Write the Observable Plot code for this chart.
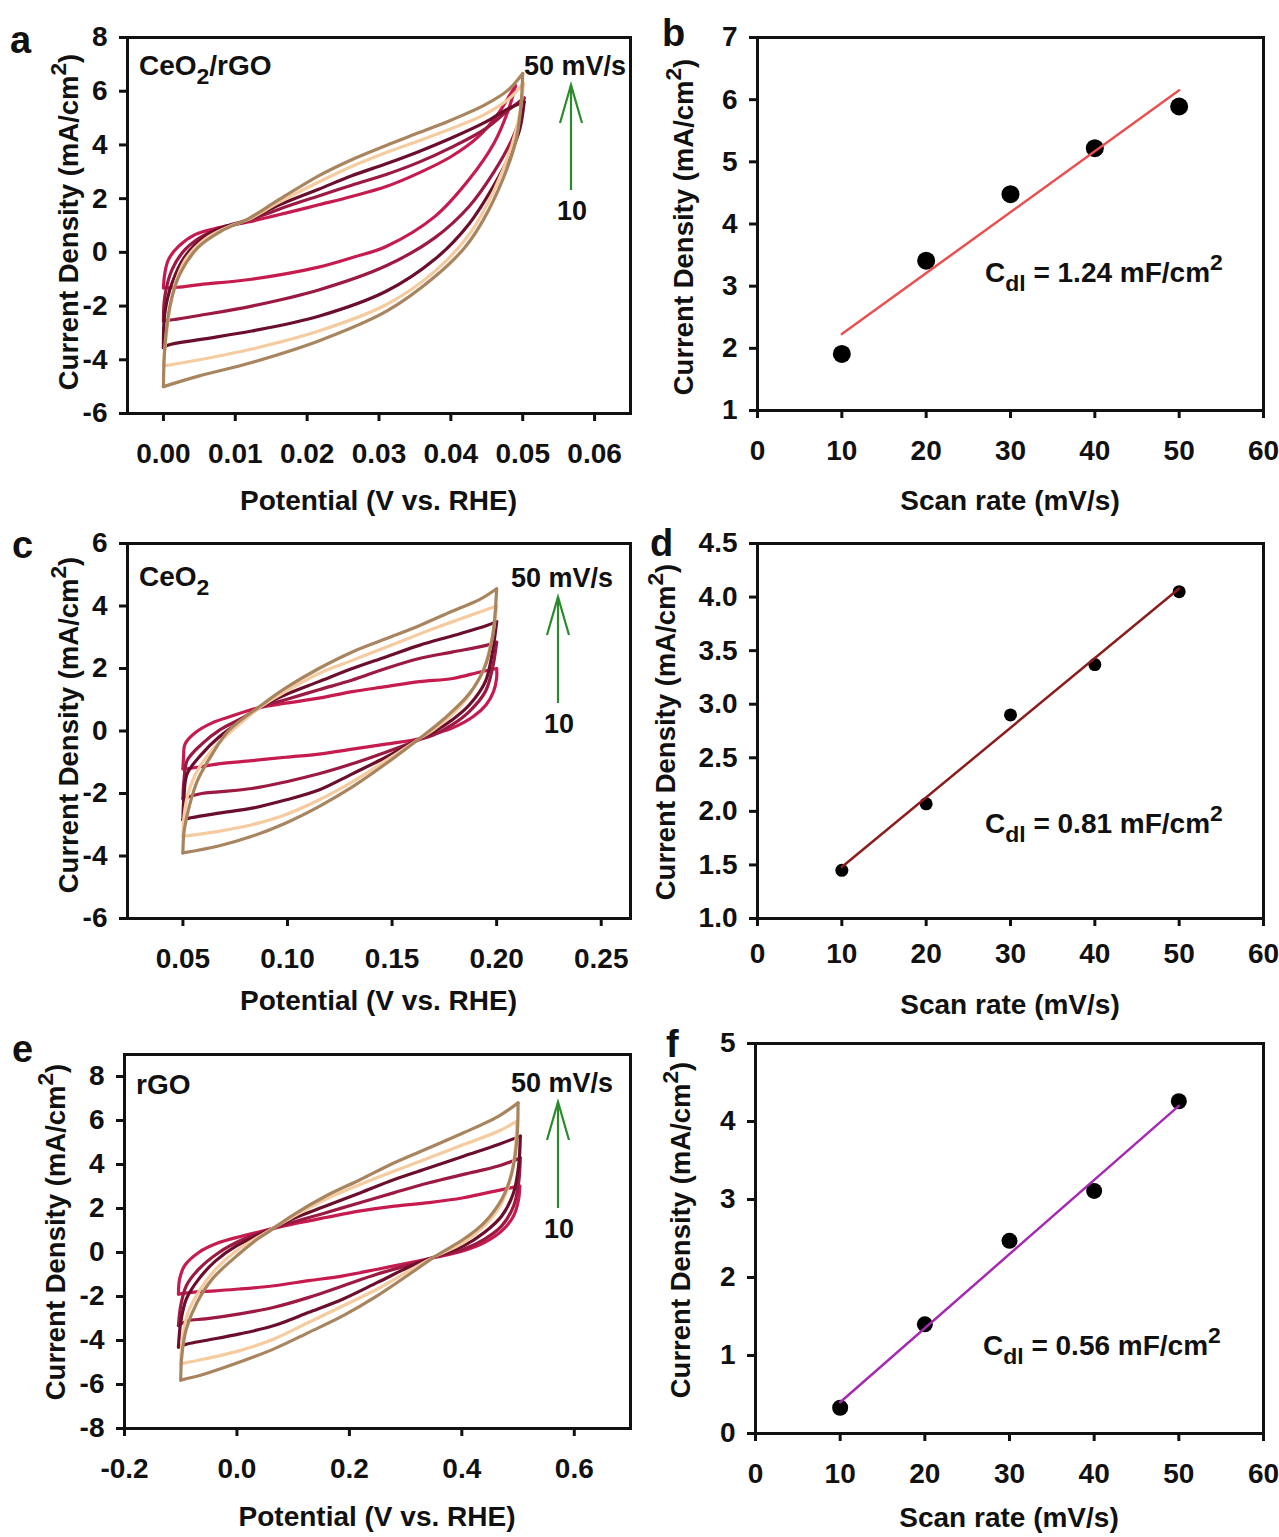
<!DOCTYPE html>
<html><head><meta charset="utf-8">
<script src="https://cdn.jsdelivr.net/npm/d3@7"></script>
<script src="https://cdn.jsdelivr.net/npm/@observablehq/plot@0.6"></script>
<style>
body{margin:0;background:#fff;}
#fig{position:relative;width:1279px;height:1537px;background:#fff;}
#fig svg{position:absolute;overflow:visible;}
</style></head><body><div id="fig"></div>
<script>
// ---------------- DATA ----------------
const scanRates = [10, 20, 30, 40, 50];

// Panel a: CeO2/rGO CV loops, forward (anodic) and reverse branches, one array per scan rate
const aForward = [
 [[0,-1.32],[0.0002,-0.77],[0.0007,-0.27],[0.0021,0.22],[0.0044,0.66],[0.0077,0.92],[0.0118,1.13],[0.017,1.46],[0.0216,1.77],[0.0262,2.08],[0.031,2.45],[0.0355,2.95],[0.040,3.56],[0.0438,4.3],[0.0466,5.17],[0.0483,5.9],[0.049,6.2]],
 [[0,-2.56],[0.0002,-1.63],[0.0012,-0.64],[0.003,0.1],[0.0058,0.66],[0.009,0.97],[0.0118,1.18],[0.016,1.6],[0.0216,2.1],[0.0262,2.5],[0.031,2.9],[0.0355,3.35],[0.040,3.9],[0.0448,4.6],[0.048,5.3],[0.0502,5.75]],
 [[0,-3.55],[0.0002,-2.25],[0.0012,-1.14],[0.003,-0.15],[0.0058,0.6],[0.0086,0.97],[0.0118,1.21],[0.016,1.75],[0.0216,2.35],[0.0262,2.85],[0.031,3.3],[0.0355,3.75],[0.040,4.25],[0.0448,4.85],[0.048,5.35],[0.0502,5.6]],
 [[0,-4.23],[0.0005,-2.87],[0.0014,-1.4],[0.003,-0.3],[0.0058,0.5],[0.009,0.95],[0.0118,1.22],[0.016,1.85],[0.0216,2.62],[0.0262,3.2],[0.031,3.72],[0.0355,4.15],[0.040,4.6],[0.0448,5.15],[0.048,5.7],[0.0501,6.3]],
 [[0,-5.0],[0.0002,-3.5],[0.0009,-2.0],[0.0023,-0.8],[0.0049,0.2],[0.0081,0.8],[0.0118,1.25],[0.016,1.95],[0.0216,2.85],[0.0262,3.45],[0.031,3.98],[0.0355,4.45],[0.040,4.92],[0.0448,5.5],[0.048,6.05],[0.05,6.66]]
];
const aReverse = [
 [[0.049,6.2],[0.048,5.3],[0.046,4.06],[0.0425,2.7],[0.0378,1.34],[0.031,0.22],[0.0262,-0.2],[0.0216,-0.55],[0.0123,-1.0],[0.0051,-1.2],[0.002,-1.3],[0,-1.32]],
 [[0.0502,5.75],[0.0495,4.9],[0.0485,4.2],[0.046,3.0],[0.0425,1.7],[0.0378,0.55],[0.031,-0.5],[0.0216,-1.4],[0.0123,-2.0],[0.005,-2.35],[0.0015,-2.5],[0,-2.56]],
 [[0.0502,5.6],[0.0496,4.6],[0.0485,3.8],[0.046,2.5],[0.0425,1.05],[0.0378,-0.25],[0.031,-1.45],[0.0216,-2.38],[0.0123,-2.93],[0.005,-3.25],[0.0007,-3.45],[0,-3.55]],
 [[0.0501,6.3],[0.0496,5.2],[0.0485,4.0],[0.046,2.3],[0.0425,0.65],[0.0378,-0.7],[0.031,-1.95],[0.0216,-2.93],[0.0123,-3.6],[0.005,-4.0],[0.0007,-4.2],[0,-4.23]],
 [[0.05,6.66],[0.0497,5.3],[0.049,4.1],[0.0472,2.7],[0.0445,1.2],[0.042,0.2],[0.0378,-0.9],[0.031,-2.2],[0.0216,-3.3],[0.0123,-4.1],[0.005,-4.6],[0,-5.0]]
];

// Panel c: CeO2
const cForward = [
 [[0.05,-1.21],[0.0503,-0.84],[0.051,-0.42],[0.056,-0.05],[0.064,0.26],[0.073,0.47],[0.086,0.74],[0.099,0.89],[0.115,1.05],[0.131,1.26],[0.147,1.42],[0.163,1.58],[0.179,1.68],[0.192,1.89],[0.2,2.0]],
 [[0.05,-2.16],[0.0505,-1.58],[0.052,-0.95],[0.059,-0.42],[0.068,0.05],[0.078,0.4],[0.0878,0.78],[0.099,1.0],[0.115,1.32],[0.131,1.63],[0.147,2.0],[0.163,2.32],[0.179,2.53],[0.195,2.74],[0.2,2.84]],
 [[0.05,-2.84],[0.0505,-2.1],[0.052,-1.37],[0.059,-0.74],[0.067,-0.21],[0.0765,0.26],[0.0878,0.8],[0.099,1.16],[0.115,1.58],[0.131,2.0],[0.147,2.37],[0.163,2.74],[0.179,3.05],[0.195,3.37],[0.2,3.5]],
 [[0.05,-3.37],[0.0505,-2.74],[0.0525,-2.0],[0.057,-1.26],[0.065,-0.53],[0.075,0.1],[0.0878,0.8],[0.099,1.26],[0.115,1.84],[0.131,2.26],[0.147,2.68],[0.163,3.1],[0.179,3.5],[0.2,4.0]],
 [[0.05,-3.9],[0.0505,-3.25],[0.053,-2.42],[0.057,-1.58],[0.064,-0.74],[0.0717,0],[0.0878,0.84],[0.099,1.37],[0.115,2.0],[0.131,2.53],[0.147,2.95],[0.163,3.37],[0.179,3.84],[0.192,4.21],[0.2,4.55]]
];
const cReverse = [
 [[0.2,2.0],[0.2,1.7],[0.1985,1.26],[0.195,0.84],[0.189,0.47],[0.179,0.1],[0.17,-0.1],[0.163,-0.25],[0.147,-0.42],[0.131,-0.58],[0.115,-0.74],[0.099,-0.84],[0.083,-0.95],[0.067,-1.05],[0.053,-1.2],[0.05,-1.21]],
 [[0.2,2.84],[0.198,2.0],[0.1946,1.26],[0.187,0.63],[0.179,0.21],[0.17,-0.12],[0.163,-0.28],[0.147,-0.68],[0.131,-1.05],[0.115,-1.37],[0.099,-1.63],[0.083,-1.84],[0.067,-1.95],[0.059,-2.0],[0.05,-2.16]],
 [[0.2,3.5],[0.198,2.53],[0.1946,1.58],[0.187,0.84],[0.179,0.37],[0.17,-0.02],[0.163,-0.25],[0.147,-0.84],[0.131,-1.37],[0.115,-1.89],[0.099,-2.21],[0.083,-2.47],[0.067,-2.63],[0.053,-2.79],[0.05,-2.84]],
 [[0.2,4.0],[0.198,3.05],[0.194,2.0],[0.187,1.16],[0.179,0.55],[0.17,0.05],[0.163,-0.25],[0.147,-0.95],[0.131,-1.63],[0.115,-2.21],[0.099,-2.68],[0.083,-3.0],[0.067,-3.21],[0.05,-3.37]],
 [[0.2,4.55],[0.198,3.0],[0.194,2.0],[0.187,1.2],[0.175,0.4],[0.163,-0.25],[0.147,-1.05],[0.131,-1.79],[0.115,-2.42],[0.099,-2.95],[0.083,-3.37],[0.067,-3.68],[0.05,-3.9]]
];

// Panel e: rGO
const eForward = [
 [[-0.104,-1.89],[-0.102,-1.21],[-0.093,-0.6],[-0.068,0],[-0.032,0.45],[0.011,0.76],[0.054,1.03],[0.097,1.28],[0.158,1.59],[0.22,1.89],[0.28,2.11],[0.342,2.27],[0.403,2.49],[0.446,2.72],[0.489,2.95],[0.503,3.02]],
 [[-0.104,-3.32],[-0.1,-2.42],[-0.09,-1.51],[-0.068,-0.76],[-0.032,0],[0.011,0.6],[0.054,1.0],[0.097,1.36],[0.158,1.81],[0.22,2.27],[0.28,2.72],[0.342,3.17],[0.403,3.55],[0.465,3.93],[0.504,4.3]],
 [[-0.104,-4.3],[-0.1,-3.17],[-0.09,-2.11],[-0.068,-1.21],[-0.038,-0.38],[-0.001,0.3],[0.054,0.98],[0.097,1.51],[0.158,2.11],[0.22,2.72],[0.28,3.32],[0.342,3.85],[0.403,4.38],[0.465,4.91],[0.504,5.29]],
 [[-0.1,-5.06],[-0.097,-3.93],[-0.087,-2.72],[-0.065,-1.66],[-0.038,-0.76],[-0.001,0.08],[0.054,0.95],[0.097,1.59],[0.158,2.42],[0.22,3.1],[0.28,3.7],[0.342,4.31],[0.403,4.91],[0.465,5.51],[0.498,5.97]],
 [[-0.1,-5.8],[-0.098,-4.68],[-0.09,-3.47],[-0.071,-2.27],[-0.044,-1.21],[-0.007,-0.3],[0.036,0.6],[0.054,0.9],[0.097,1.66],[0.158,2.57],[0.22,3.32],[0.28,4.08],[0.342,4.76],[0.403,5.44],[0.465,6.19],[0.5,6.8]]
];
const eReverse = [
 [[0.503,3.02],[0.501,2.42],[0.492,1.66],[0.471,0.98],[0.44,0.45],[0.403,0.08],[0.351,-0.23],[0.311,-0.45],[0.25,-0.76],[0.189,-1.06],[0.128,-1.28],[0.066,-1.51],[0.005,-1.66],[-0.038,-1.74],[-0.081,-1.81],[-0.104,-1.89]],
 [[0.504,4.3],[0.501,3.17],[0.492,2.11],[0.471,1.21],[0.44,0.6],[0.403,0.15],[0.351,-0.22],[0.311,-0.53],[0.25,-0.98],[0.189,-1.51],[0.128,-2.04],[0.066,-2.49],[0.005,-2.79],[-0.056,-3.02],[-0.087,-3.1],[-0.104,-3.32]],
 [[0.504,5.29],[0.501,3.93],[0.492,2.72],[0.471,1.66],[0.44,0.91],[0.403,0.3],[0.351,-0.2],[0.311,-0.6],[0.25,-1.36],[0.189,-2.11],[0.128,-2.72],[0.066,-3.32],[0.005,-3.7],[-0.056,-4.0],[-0.087,-4.15],[-0.104,-4.3]],
 [[0.498,5.97],[0.495,4.68],[0.486,3.32],[0.468,2.11],[0.44,1.21],[0.403,0.45],[0.351,-0.2],[0.311,-0.76],[0.25,-1.66],[0.189,-2.42],[0.128,-3.17],[0.066,-3.93],[0.005,-4.46],[-0.056,-4.83],[-0.1,-5.06]],
 [[0.5,6.8],[0.498,5.14],[0.489,3.63],[0.471,2.42],[0.44,1.36],[0.403,0.6],[0.354,-0.15],[0.311,-0.91],[0.25,-1.96],[0.189,-2.87],[0.128,-3.63],[0.066,-4.38],[0.005,-4.98],[-0.056,-5.51],[-0.1,-5.8]]
];

// Panels b, d, f: current density vs scan rate, with linear fits
const bCurrent = [1.91, 3.41, 4.48, 5.22, 5.89];
const dCurrent = [1.45, 2.07, 2.90, 3.37, 4.05];
const fCurrent = [0.33, 1.40, 2.47, 3.11, 4.26];
const fitRates = [10, 50];
const bFit = [2.23, 6.15];
const dFit = [1.48, 4.08];
const fFit = [0.40, 4.20];
const cdlValues = ["1.24", "0.81", "0.56"];

// Tick values
const aXTicks = [0, 0.01, 0.02, 0.03, 0.04, 0.05, 0.06];
const aYTicks = [-6, -4, -2, 0, 2, 4, 6, 8];
const cXTicks = [0.05, 0.10, 0.15, 0.20, 0.25];
const cYTicks = [-6, -4, -2, 0, 2, 4, 6];
const eXTicks = [-0.2, 0, 0.2, 0.4, 0.6];
const eYTicks = [-8, -6, -4, -2, 0, 2, 4, 6, 8];
const rateTicks = [0, 10, 20, 30, 40, 50, 60];
const bYTicks = [1, 2, 3, 4, 5, 6, 7];
const dYTicks = [1.0, 1.5, 2.0, 2.5, 3.0, 3.5, 4.0, 4.5];
const fYTicks = [0, 1, 2, 3, 4, 5];

// ---------------- STYLE ----------------
const FONT = '"Liberation Sans", Arial, Helvetica, sans-serif';
const rateColors = ["#c61b4f", "#9c1942", "#6b0e2c", "#f5cba0", "#a8845f"];
const GREEN = "#2b8a2b";
const fig = document.getElementById("fig");

function makePanel(box, frame, o, marks) {
  const plot = Plot.plot({
    width: box.w, height: box.h,
    marginLeft: frame.l - box.x, marginRight: box.x + box.w - frame.r,
    marginTop: frame.t - box.y, marginBottom: box.y + box.h - frame.b,
    x: {domain: o.xDomain, label: null},
    y: {domain: o.yDomain, label: null},
    color: {type: "ordinal", domain: scanRates, range: rateColors},
    style: {fontFamily: FONT, fontSize: "28px", fontWeight: "bold", color: "#111", background: "transparent", overflow: "visible"},
    marks: [
      ...marks,
      Plot.frame({stroke: "#111", strokeWidth: 3}),
      Plot.axisX({ticks: o.xTicks, tickFormat: o.xFormat, tickSize: 8, tickPadding: o.xPad, strokeWidth: 3, label: null}),
      Plot.axisY({ticks: o.yTicks, tickFormat: o.yFormat, tickSize: 8, tickPadding: o.yPad, strokeWidth: 3, label: null})
    ]
  });
  plot.style.left = box.x + "px";
  plot.style.top = box.y + "px";
  fig.appendChild(plot);
  return plot;
}

function rich(svg, box, px, py, parts, o = {}) {
  const size = o.size || 28;
  const t = d3.select(svg).append("text")
    .attr("font-family", FONT).attr("font-weight", "bold").attr("font-size", size)
    .attr("fill", o.fill || "#111").attr("text-anchor", o.anchor || "start");
  const lx = px - box.x, ly = py - box.y;
  if (o.rotate) t.attr("transform", `translate(${lx},${ly}) rotate(-90)`);
  else t.attr("x", lx).attr("y", ly);
  let cur = 0;
  for (const [s, kind] of parts) {
    const target = kind === "sub" ? size * 0.32 : kind === "sup" ? -size * 0.42 : 0;
    const ts = t.append("tspan").text(s).attr("dy", target - cur);
    if (kind) ts.attr("font-size", size * 0.82);
    cur = target;
  }
}

function greenArrow(svg, box, x, yTail, yHead) {
  const g = d3.select(svg).append("g").attr("stroke", GREEN).attr("stroke-width", 2.2).attr("fill", "none");
  const lx = x - box.x;
  g.append("line").attr("x1", lx).attr("x2", lx).attr("y1", yTail - box.y).attr("y2", yHead - box.y);
  g.append("polyline").attr("points", `${lx - 11},${yHead - box.y + 38} ${lx},${yHead - box.y} ${lx + 11},${yHead - box.y + 38}`);
}

function cvRows(fwd, rev) {
  const rows = [];
  scanRates.forEach((r, i) => {
    for (const [x, y] of fwd[i]) rows.push({rate: r, seg: r + "f", x, y});
    for (const [x, y] of rev[i]) rows.push({rate: r, seg: r + "r", x, y});
  });
  return rows;
}

const yTitle = [["Current Density (mA/cm"], ["2", "sup"], [")"]];
const f1 = d => d.toFixed(1), f2 = d => d.toFixed(2), f0 = d => String(d);

function cvPanel(p) {
  const svg = makePanel(p.box, p.frame,
    {xDomain: p.xDomain, yDomain: p.yDomain, xTicks: p.xTicks, yTicks: p.yTicks, xFormat: p.xFormat, yFormat: f0, xPad: 22, yPad: 12},
    [Plot.line(cvRows(p.fwd, p.rev), {x: "x", y: "y", z: "seg", stroke: "rate", strokeWidth: 3.2, curve: "catmull-rom"})]);
  const b = p.box, fr = p.frame;
  rich(svg, b, p.letter[1], p.letter[2], [[p.letter[0]]], {size: 38});
  rich(svg, b, (fr.l + fr.r) / 2 + p.xt[0], p.xt[1], [["Potential (V vs. RHE)"]], {anchor: "middle"});
  rich(svg, b, p.yt[0], p.yt[1], yTitle, {anchor: "middle", rotate: true, size: 27.5});
  rich(svg, b, fr.l + 12, fr.t + p.nameDy, p.name, {size: 28});
  rich(svg, b, p.ann.x, fr.t + p.ann.top, [["50 mV/s"]], {size: 27, anchor: "middle"});
  rich(svg, b, p.ann.x - 3, fr.t + p.ann.bottom, [["10"]], {size: 27, anchor: "middle"});
  greenArrow(svg, b, p.ann.x - 4, fr.t + p.ann.bottom - 30, fr.t + p.ann.top + 10);
}

function ratePanel(p) {
  const pts = scanRates.map((x, i) => ({x, y: p.current[i]}));
  const fit = fitRates.map((x, i) => ({x, y: p.fit[i]}));
  const svg = makePanel(p.box, p.frame,
    {xDomain: [0, 60], yDomain: p.yDomain, xTicks: rateTicks, yTicks: p.yTicks, xFormat: f0, yFormat: p.yFormat, xPad: p.xPad, yPad: 12},
    [Plot.dot(pts, {x: "x", y: "y", r: p.r, fill: "#000"}),
     Plot.line(fit, {x: "x", y: "y", stroke: p.color, strokeWidth: 2.5})]);
  const b = p.box, fr = p.frame;
  rich(svg, b, p.letter[1], p.letter[2], [[p.letter[0]]], {size: 38});
  rich(svg, b, (fr.l + fr.r) / 2, p.xt, [["Scan rate (mV/s)"]], {anchor: "middle"});
  rich(svg, b, p.yt[0], p.yt[1], yTitle, {anchor: "middle", rotate: true, size: 27.5});
  rich(svg, b, fr.l + 228, p.cdlY, [["C"], ["dl", "sub"], [" = " + p.cdl + " mF/cm"], ["2", "sup"]], {size: 28});
}

// ---------------- PANELS ----------------
cvPanel({box: {x: 0, y: 0, w: 640, h: 520}, frame: {l: 127, t: 37, r: 630, b: 413},
  xDomain: [-0.005, 0.065], yDomain: [-6, 8], xTicks: aXTicks, yTicks: aYTicks, xFormat: f2,
  fwd: aForward, rev: aReverse, letter: ["a", 10, 53], xt: [0, 510], yt: [78, 222],
  name: [["CeO"], ["2", "sub"], ["/rGO"]], nameDy: 38,
  ann: {x: 575, top: 38, bottom: 183}});

ratePanel({box: {x: 640, y: 0, w: 639, h: 520}, frame: {l: 757, t: 37, r: 1263, b: 410},
  current: bCurrent, fit: bFit, color: "#e8514f", r: 9, yDomain: [1, 7], yTicks: bYTicks, yFormat: f0,
  xPad: 22, letter: ["b", 662, 46], xt: 510, yt: [693, 227], cdl: cdlValues[0], cdlY: 282});

cvPanel({box: {x: 0, y: 520, w: 640, h: 500}, frame: {l: 127, t: 543, r: 630, b: 918},
  xDomain: [0.0235, 0.264], yDomain: [-6, 6], xTicks: cXTicks, yTicks: cYTicks, xFormat: f2,
  fwd: cForward, rev: cReverse, letter: ["c", 12, 558], xt: [0, 1010], yt: [78, 725],
  name: [["CeO"], ["2", "sub"]], nameDy: 43,
  ann: {x: 562, top: 44, bottom: 190}});

ratePanel({box: {x: 640, y: 520, w: 639, h: 500}, frame: {l: 757, t: 543, r: 1263, b: 918},
  current: dCurrent, fit: dFit, color: "#8b1d1d", r: 6.5, yDomain: [1, 4.5], yTicks: dYTicks, yFormat: f1,
  xPad: 17, letter: ["d", 650, 556], xt: 1014, yt: [675, 732], cdl: cdlValues[1], cdlY: 833});

cvPanel({box: {x: 0, y: 1020, w: 640, h: 517}, frame: {l: 124, t: 1054, r: 630, b: 1428},
  xDomain: [-0.2, 0.7], yDomain: [-8, 9], xTicks: eXTicks, yTicks: eYTicks, xFormat: f1,
  fwd: eForward, rev: eReverse, letter: ["e", 12, 1062], xt: [0, 1526], yt: [65, 1232],
  name: [["rGO"]], nameDy: 40,
  ann: {x: 562, top: 38, bottom: 184}});

ratePanel({box: {x: 640, y: 1020, w: 639, h: 517}, frame: {l: 755, t: 1043, r: 1263, b: 1433},
  current: fCurrent, fit: fFit, color: "#a52ab2", r: 8, yDomain: [0, 5], yTicks: fYTicks, yFormat: f0,
  xPad: 22, letter: ["f", 666, 1057], xt: 1527, yt: [690, 1230], cdl: cdlValues[2], cdlY: 1355});
</script></body></html>
